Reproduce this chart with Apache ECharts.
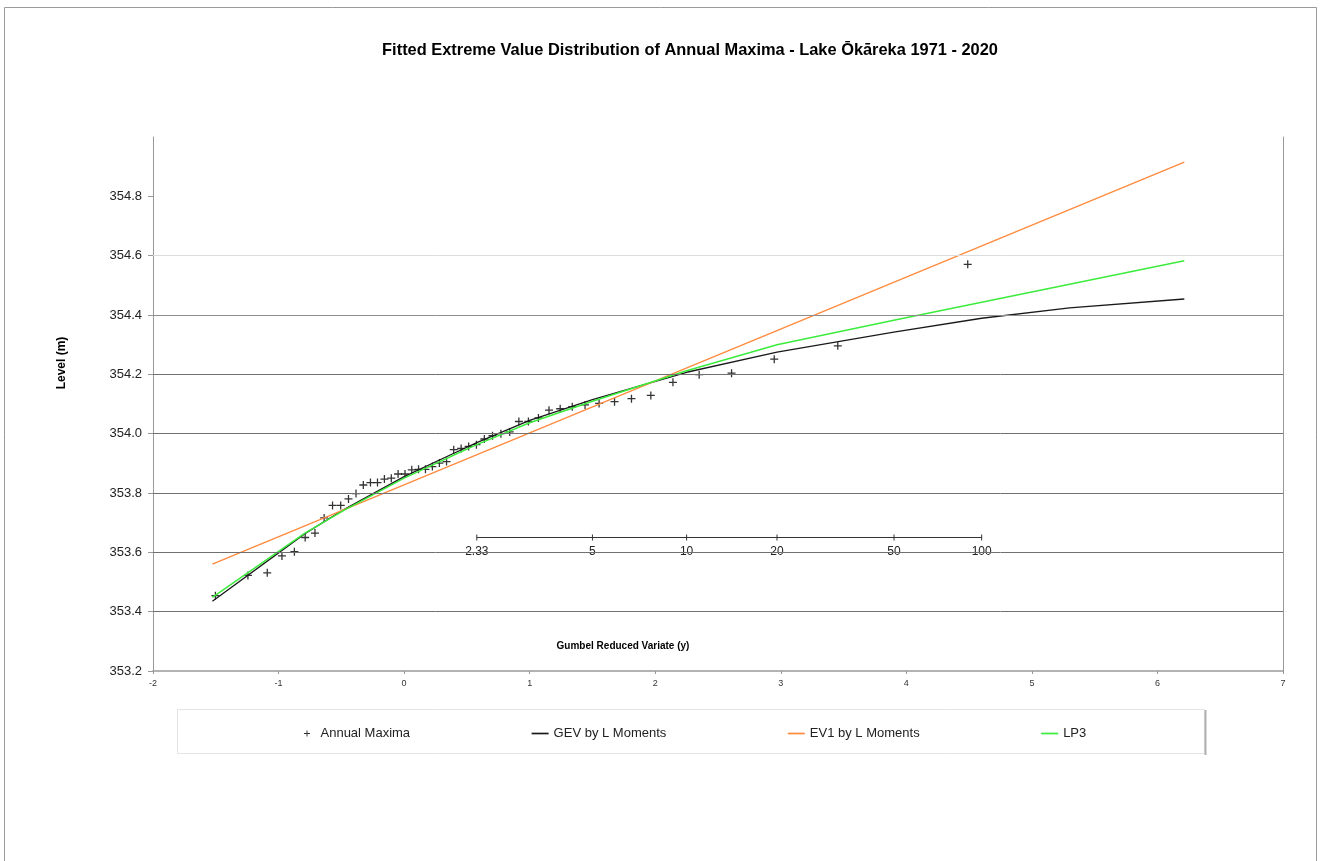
<!DOCTYPE html>
<html><head><meta charset="utf-8">
<script src="https://cdn.jsdelivr.net/npm/echarts@6/dist/echarts.min.js"></script>
<style>html,body{margin:0;padding:0;background:#fff}#c{width:1322px;height:861px}</style>
</head><body><div id="c"></div>
<script>
const titleText = 'Fitted Extreme Value Distribution of Annual Maxima - Lake Ōkāreka 1971 - 2020';
const yAxisTitle = 'Level (m)';
const xAxisTitle = 'Gumbel Reduced Variate (y)';
const legendNames = ['Annual Maxima', 'GEV by L Moments', 'EV1 by L Moments', 'LP3'];

// Gumbel reduced variate (plotting position) of each ranked annual maximum
const reducedVariate = [-1.503, -1.244, -1.090, -0.973, -0.874, -0.788, -0.710, -0.637, -0.570, -0.505,
  -0.443, -0.383, -0.325, -0.268, -0.212, -0.157, -0.102, -0.048, 0.007, 0.061,
  0.115, 0.170, 0.225, 0.281, 0.338, 0.395, 0.454, 0.514, 0.576, 0.639,
  0.704, 0.771, 0.841, 0.914, 0.990, 1.070, 1.154, 1.243, 1.339, 1.441,
  1.553, 1.676, 1.811, 1.965, 2.141, 2.350, 2.608, 2.948, 3.454, 4.489];
// Annual maxima lake level (m)
const annualMaxima = [353.454, 353.522, 353.531, 353.588, 353.602, 353.650, 353.665, 353.716, 353.758, 353.758,
  353.780, 353.798, 353.827, 353.835, 353.835, 353.847, 353.850, 353.864, 353.864, 353.878,
  353.880, 353.880, 353.889, 353.901, 353.906, 353.946, 353.950, 353.957, 353.963, 353.982,
  353.993, 354.000, 354.006, 354.041, 354.041, 354.053, 354.079, 354.084, 354.091, 354.097,
  354.102, 354.108, 354.118, 354.129, 354.173, 354.199, 354.204, 354.251, 354.296, 354.571];

// fitted curves
const fitX = [-1.527, -0.79, -0.476, 0, 0.367, 0.579, 1.0, 1.5, 2.25, 2.97, 3.90, 4.60, 5.30, 6.214];
const gevLevels = [353.435, 353.663, 353.745, 353.855, 353.928, 353.970, 354.045, 354.115, 354.207, 354.275, 354.342, 354.389, 354.424, 354.454];
const lp3Levels = [353.448, 353.665, 353.742, 353.850, 353.922, 353.963, 354.037, 354.109, 354.212, 354.300, 354.382, 354.443, 354.504, 354.583];
const ev1X = [-1.527, 6.214];
const ev1Levels = [353.560, 354.915];

// return period scale
const returnPeriodX = [0.579, 1.500, 2.250, 2.970, 3.902, 4.600];
const returnPeriodLabels = ['2.33', '5', '10', '20', '50', '100'];
const returnPeriodLevel = 353.65;

// horizontal gridlines
const gridLevels = [353.4, 353.6, 353.8, 354.0, 354.2, 354.4, 354.6];
const gridColors = ['#707070', '#707070', '#707070', '#707070', '#707070', '#8e8e8e', '#dcdcdc'];

const FONT = '"Liberation Sans", Arial, sans-serif';
const plusPath = 'path://M4.2,0H5.8V4.2H10V5.8H5.8V10H4.2V5.8H0V4.2H4.2Z';
const dashPath = 'path://M0,0H20V2H0Z';

const chart = echarts.init(document.getElementById('c'), null, {renderer: 'canvas'});
chart.setOption({
  animation: false,
  backgroundColor: '#ffffff',
  textStyle: {fontFamily: FONT},
  title: {
    text: titleText, left: 685, top: 37, textAlign: 'center',
    textStyle: {fontFamily: FONT, fontSize: 16.4, fontWeight: 'bold', color: '#000'}
  },
  grid: {left: 153, right: 39, top: 137, bottom: 190, containLabel: false},
  legend: {
    data: legendNames.map((n, i) => ({name: n, icon: i === 0 ? plusPath : dashPath})),
    left: 299, top: 722, itemWidth: 17, itemHeight: 6, itemGap: 121.5,
    textStyle: {fontFamily: FONT, fontSize: 13, color: '#222'}
  },
  xAxis: {
    type: 'value', min: -2, max: 7, interval: 1,
    axisLine: {show: true, onZero: false, lineStyle: {color: '#999', width: 1.5}},
    axisTick: {show: true, length: 3, lineStyle: {color: '#999'}},
    axisLabel: {fontFamily: FONT, fontSize: 9, color: '#333', margin: 8},
    splitLine: {show: false}
  },
  yAxis: [{
    type: 'value', min: 353.2, max: 355.0, interval: 0.2, position: 'left',
    axisLine: {show: true, onZero: false, lineStyle: {color: '#999'}},
    axisTick: {show: true, length: 5, lineStyle: {color: '#999'}},
    axisLabel: {fontFamily: FONT, fontSize: 13, color: '#222', margin: 11, showMaxLabel: false,
      formatter: v => v.toFixed(1)},
    splitLine: {show: false}
  }, {
    type: 'value', min: 353.2, max: 355.0, interval: 0.2, position: 'right',
    axisLine: {show: true, onZero: false, lineStyle: {color: '#999'}},
    axisTick: {show: false}, axisLabel: {show: false}, splitLine: {show: false}
  }],
  graphic: [
    {type: 'rect', shape: {x: 4.5, y: 7.5, width: 1312, height: 900}, style: {fill: 'none', stroke: '#9a9a9a', lineWidth: 1}, silent: true, z: -10},
    {type: 'rect', shape: {x: 177.5, y: 709.5, width: 1027, height: 44}, style: {fill: 'none', stroke: '#e4e4e4', lineWidth: 1}, silent: true},
    {type: 'line', shape: {x1: 1205.5, y1: 710, x2: 1205.5, y2: 755}, style: {stroke: '#b0b0b0', lineWidth: 2}, silent: true},
    {type: 'text', x: 62, y: 363, rotation: Math.PI / 2, silent: true,
      style: {text: yAxisTitle, fontFamily: FONT, fontSize: 12, fontWeight: 'bold', fill: '#000', textAlign: 'center', textVerticalAlign: 'middle'}},
    {type: 'text', x: 623, y: 646, silent: true,
      style: {text: xAxisTitle, fontFamily: FONT, fontSize: 10, fontWeight: 'bold', fill: '#000', textAlign: 'center', textVerticalAlign: 'middle'}}
  ],
  series: [
    {
      type: 'line', name: 'grid', data: [], silent: true, z: 1,
      markLine: {
        silent: true, symbol: ['none', 'none'], label: {show: false}, animation: false,
        data: gridLevels.map((v, i) => ({yAxis: v, lineStyle: {color: gridColors[i], width: 1, type: 'solid'}}))
      }
    },
    {
      type: 'line', name: 'Return Period', silent: true, z: 2,
      data: returnPeriodX.map(x => [x, returnPeriodLevel]),
      symbol: 'rect', symbolSize: [1, 6], showSymbol: true,
      itemStyle: {color: '#333'}, lineStyle: {color: '#333', width: 1},
      label: {show: true, position: 'bottom', distance: 5, fontFamily: FONT, fontSize: 12, color: '#222',
        formatter: p => returnPeriodLabels[p.dataIndex]}
    },
    {
      type: 'scatter', name: legendNames[0], z: 3,
      data: reducedVariate.map((x, i) => [x, annualMaxima[i]]),
      symbol: plusPath, symbolSize: 8, itemStyle: {color: '#000'}
    },
    {
      type: 'line', name: legendNames[1], z: 4, symbol: 'none',
      data: fitX.map((x, i) => [x, gevLevels[i]]),
      lineStyle: {color: '#1a1a1a', width: 1.3}, itemStyle: {color: '#1a1a1a'}
    },
    {
      type: 'line', name: legendNames[2], z: 4, symbol: 'none',
      data: ev1X.map((x, i) => [x, ev1Levels[i]]),
      lineStyle: {color: '#ff8a3d', width: 1.3}, itemStyle: {color: '#ff8a3d'}
    },
    {
      type: 'line', name: legendNames[3], z: 4, symbol: 'none',
      data: fitX.map((x, i) => [x, lp3Levels[i]]),
      lineStyle: {color: '#3cec3c', width: 1.5}, itemStyle: {color: '#3cec3c'}
    }
  ]
});
</script>
</body></html>
